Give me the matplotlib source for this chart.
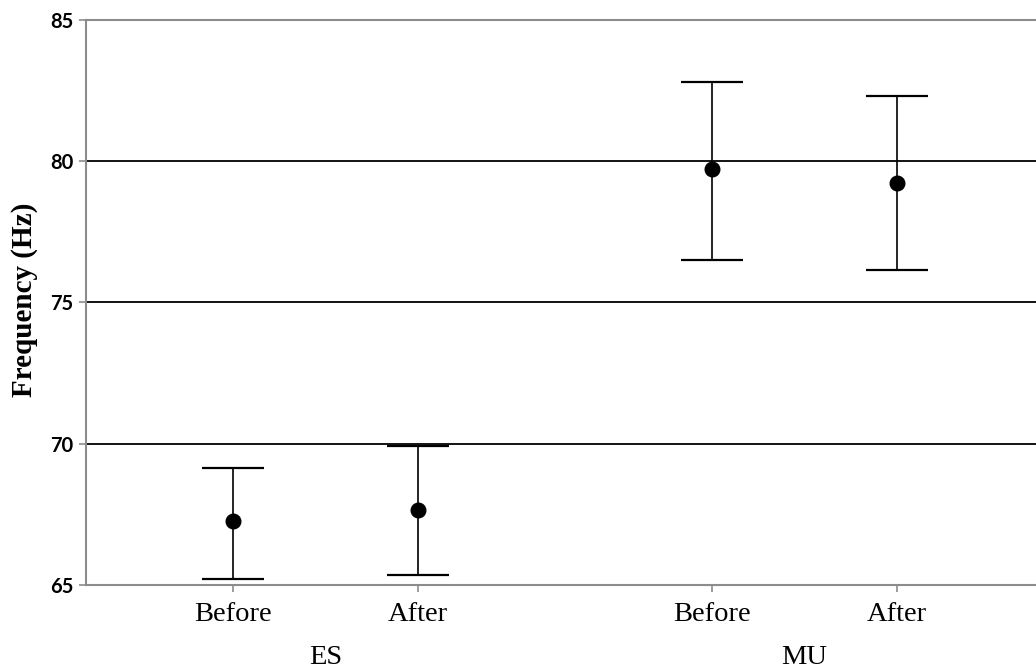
import matplotlib
matplotlib.use("Agg")
import matplotlib.pyplot as plt

# Mean frequency with interval bounds, by group and condition
groups = ["ES", "MU"]
conditions = ["Before", "After", "Before", "After"]
means = [67.25, 67.65, 79.70, 79.20]
upper = [69.13, 69.91, 82.78, 82.30]
lower = [65.21, 65.34, 76.50, 76.15]

positions = [0.0, 1.0, 2.585, 3.58]
group_centers = [0.5, 3.08]

fig = plt.figure(figsize=(10.36, 6.68), dpi=100)
ax = fig.add_axes([0.083, 0.1243, 0.917, 0.8465])

yerr = [[m - lo for m, lo in zip(means, lower)],
        [hi - m for m, hi in zip(means, upper)]]
ax.errorbar(positions, means, yerr=yerr, fmt="o", color="black",
            ecolor="black", elinewidth=1.2, capsize=22, capthick=1.6,
            markersize=10.5, zorder=3)

ax.set_xlim(-0.79, 4.33)
ax.set_ylim(65, 85)
ax.set_yticks([65, 70, 75, 80, 85])
for y in [70, 75, 80]:
    ax.axhline(y, color="black", lw=1.3, zorder=1)

ax.set_xticks(positions)
ax.set_xticklabels(conditions, family="Liberation Serif", fontsize=20.5)
for lbl in ax.get_yticklabels():
    lbl.set_family("Lato")
    lbl.set_fontweight("bold")
    lbl.set_fontsize(14.5)

ax.tick_params(axis="both", color="#8c8c8c", length=5, width=1.2)
ax.tick_params(axis="x", pad=7)
ax.tick_params(axis="y", pad=4)

for side in ["left", "bottom", "top"]:
    ax.spines[side].set_color("#8c8c8c")
    ax.spines[side].set_linewidth(1.5)
ax.spines["right"].set_visible(False)

for gx, g in zip(group_centers, groups):
    ax.text(gx, -0.128, g, transform=ax.get_xaxis_transform(),
            ha="center", va="center", family="Liberation Serif", fontsize=20.5)

ax.set_ylabel("Frequency (Hz)", family="Liberation Serif",
              fontweight="bold", fontsize=21)
ax.yaxis.set_label_coords(-0.051, 0.505)

fig.savefig("out.png", dpi=100)
